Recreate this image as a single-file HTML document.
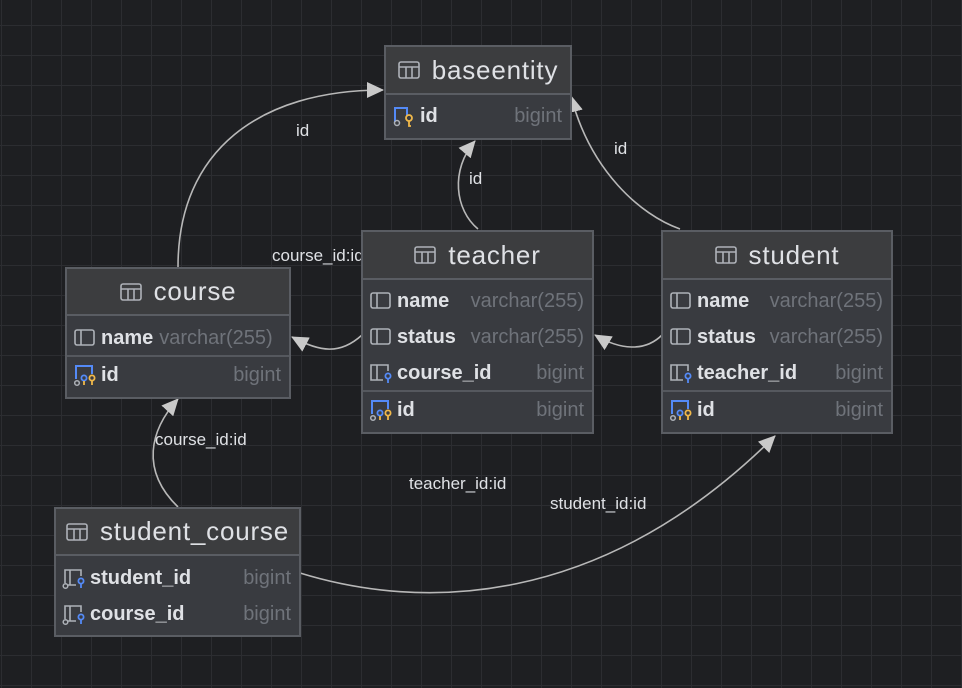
<!DOCTYPE html>
<html><head><meta charset="utf-8"><style>
html,body{margin:0;padding:0;}
body{width:962px;height:688px;position:relative;overflow:hidden;background:#1e1f22;font-family:"Liberation Sans",sans-serif;}
svg.bg{position:absolute;left:0;top:0;}
.t{position:absolute;background:#393b40;border:2px solid #5a5d63;box-sizing:border-box;}
.h{position:absolute;left:0;right:0;top:0;background:#3c3d3f;border-bottom:2px solid #5a5d63;color:#dfe1e5;font-size:26px;display:flex;align-items:center;justify-content:center;letter-spacing:0.8px;}
.h svg{margin-right:12px;}
.r{position:absolute;left:0;right:0;height:30px;display:flex;align-items:center;font-size:20px;}
.r .ic{width:24px;height:24px;margin-left:6px;margin-right:4px;flex:none;}
.r .n{color:#dfe1e5;font-weight:bold;white-space:nowrap;}
.r .ty{color:#6f737a;margin-left:auto;margin-right:8px;white-space:nowrap;}
.sep{position:absolute;left:0;right:0;height:2px;background:#55585e;}
.lbl{position:absolute;color:#dfe1e5;font-size:17px;}
</style></head><body>
<svg class="bg" width="962" height="688">
<defs>
<pattern id="g" width="30" height="30" patternUnits="userSpaceOnUse" x="1" y="25">
<path d="M0 0H30M0 0V30" stroke="#2c2d31" stroke-width="2" fill="none"/>
</pattern>
<marker id="a" markerWidth="18" markerHeight="16" refX="16" refY="8" orient="auto" markerUnits="userSpaceOnUse">
<path d="M0,0 L17,8 L0,16 Z" fill="#c9c9c9"/>
</marker>
</defs>
<rect width="962" height="688" fill="url(#g)"/>
<g stroke="#b8b8b8" stroke-width="1.6" fill="none" marker-end="url(#a)">
<path d="M178,267 C178,150 260,90 383,90"/>
<path d="M478,229 C455,210 450,170 475,141"/>
<path d="M680,229 C640,215 590,170 571,96"/>
<path d="M362,335 C340,355 320,352 292,337"/>
<path d="M662,335 C645,352 620,350 595,335"/>
<path d="M178,507 C140,470 150,430 178,399"/>
<path d="M300,573 C420,610 600,610 775,436"/>
</g>
</svg>

<div class="lbl" style="left:296px;top:121px">id</div>
<div class="lbl" style="left:469px;top:169px">id</div>
<div class="lbl" style="left:614px;top:139px">id</div>
<div class="lbl" style="left:272px;top:246px">course_id:id</div>
<div class="lbl" style="left:155px;top:430px">course_id:id</div>
<div class="lbl" style="left:409px;top:474px">teacher_id:id</div>
<div class="lbl" style="left:550px;top:494px">student_id:id</div>

<!-- baseentity -->
<div class="t" style="left:384px;top:45px;width:188px;height:95px">
 <div class="h" style="height:46px"><svg width="22" height="18"><rect x="1" y="1" width="20" height="16" rx="2" fill="none" stroke="#aeb2b8" stroke-width="1.6"/><path d="M1 6H21M8 6V17M14 6V17" stroke="#aeb2b8" stroke-width="1.6"/></svg>baseentity</div>
 <div class="r" style="top:54px"><svg class="ic" viewBox="0 0 24 24"><path d="M3 18V4h12v8" stroke="#548af7" stroke-width="2" fill="none"/><circle cx="5" cy="19" r="2.5" stroke="#aeb2b8" fill="none" stroke-width="1.5"/><circle cx="17" cy="14" r="3" stroke="#f0b84a" fill="none" stroke-width="1.8"/><path d="M17 17v5h2" stroke="#f0b84a" stroke-width="1.8" fill="none"/></svg><span class="n">id</span><span class="ty">bigint</span></div>
</div>

<!-- teacher -->
<div class="t" style="left:361px;top:230px;width:233px;height:204px">
 <div class="h" style="height:46px"><svg width="22" height="18"><rect x="1" y="1" width="20" height="16" rx="2" fill="none" stroke="#aeb2b8" stroke-width="1.6"/><path d="M1 6H21M8 6V17M14 6V17" stroke="#aeb2b8" stroke-width="1.6"/></svg>teacher</div>
 <div class="r" style="top:54px"><svg class="ic" viewBox="0 0 24 24"><rect x="2" y="4" width="19" height="15" rx="2" stroke="#aeb2b8" fill="none" stroke-width="1.6"/><path d="M8 4V19" stroke="#aeb2b8" stroke-width="1.6"/></svg><span class="n">name</span><span class="ty">varchar(255)</span></div>
 <div class="r" style="top:90px"><svg class="ic" viewBox="0 0 24 24"><rect x="2" y="4" width="19" height="15" rx="2" stroke="#aeb2b8" fill="none" stroke-width="1.6"/><path d="M8 4V19" stroke="#aeb2b8" stroke-width="1.6"/></svg><span class="n">status</span><span class="ty">varchar(255)</span></div>
 <div class="r" style="top:126px"><svg class="ic" viewBox="0 0 24 24"><path d="M14 19H2V4h17v6M8 4V19" stroke="#aeb2b8" fill="none" stroke-width="1.6"/><circle cx="19" cy="15" r="2.6" stroke="#548af7" fill="none" stroke-width="1.8"/><path d="M19 18v4" stroke="#548af7" stroke-width="1.8"/></svg><span class="n">course_id</span><span class="ty">bigint</span></div>
 <div class="sep" style="top:158px"></div>
 <div class="r" style="top:163px"><svg class="ic" viewBox="0 0 24 24"><path d="M3 16V3h16v8" stroke="#548af7" stroke-width="2" fill="none"/><circle cx="4" cy="20" r="2.3" stroke="#aeb2b8" fill="none" stroke-width="1.5"/><circle cx="11" cy="15" r="2.6" stroke="#548af7" fill="none" stroke-width="1.8"/><circle cx="19" cy="15" r="2.6" stroke="#f0b84a" fill="none" stroke-width="1.8"/><path d="M19 18v4M11 18v4" stroke="#f0b84a" stroke-width="1.8"/></svg><span class="n">id</span><span class="ty">bigint</span></div>
</div>

<!-- student -->
<div class="t" style="left:661px;top:230px;width:232px;height:204px">
 <div class="h" style="height:46px"><svg width="22" height="18"><rect x="1" y="1" width="20" height="16" rx="2" fill="none" stroke="#aeb2b8" stroke-width="1.6"/><path d="M1 6H21M8 6V17M14 6V17" stroke="#aeb2b8" stroke-width="1.6"/></svg>student</div>
 <div class="r" style="top:54px"><svg class="ic" viewBox="0 0 24 24"><rect x="2" y="4" width="19" height="15" rx="2" stroke="#aeb2b8" fill="none" stroke-width="1.6"/><path d="M8 4V19" stroke="#aeb2b8" stroke-width="1.6"/></svg><span class="n">name</span><span class="ty">varchar(255)</span></div>
 <div class="r" style="top:90px"><svg class="ic" viewBox="0 0 24 24"><rect x="2" y="4" width="19" height="15" rx="2" stroke="#aeb2b8" fill="none" stroke-width="1.6"/><path d="M8 4V19" stroke="#aeb2b8" stroke-width="1.6"/></svg><span class="n">status</span><span class="ty">varchar(255)</span></div>
 <div class="r" style="top:126px"><svg class="ic" viewBox="0 0 24 24"><path d="M14 19H2V4h17v6M8 4V19" stroke="#aeb2b8" fill="none" stroke-width="1.6"/><circle cx="19" cy="15" r="2.6" stroke="#548af7" fill="none" stroke-width="1.8"/><path d="M19 18v4" stroke="#548af7" stroke-width="1.8"/></svg><span class="n" style="width:103px;overflow:hidden">teacher_id</span><span class="ty">bigint</span></div>
 <div class="sep" style="top:158px"></div>
 <div class="r" style="top:163px"><svg class="ic" viewBox="0 0 24 24"><path d="M3 16V3h16v8" stroke="#548af7" stroke-width="2" fill="none"/><circle cx="4" cy="20" r="2.3" stroke="#aeb2b8" fill="none" stroke-width="1.5"/><circle cx="11" cy="15" r="2.6" stroke="#548af7" fill="none" stroke-width="1.8"/><circle cx="19" cy="15" r="2.6" stroke="#f0b84a" fill="none" stroke-width="1.8"/><path d="M19 18v4M11 18v4" stroke="#f0b84a" stroke-width="1.8"/></svg><span class="n">id</span><span class="ty">bigint</span></div>
</div>

<!-- course -->
<div class="t" style="left:65px;top:267px;width:226px;height:132px">
 <div class="h" style="height:45px"><svg width="22" height="18"><rect x="1" y="1" width="20" height="16" rx="2" fill="none" stroke="#aeb2b8" stroke-width="1.6"/><path d="M1 6H21M8 6V17M14 6V17" stroke="#aeb2b8" stroke-width="1.6"/></svg>course</div>
 <div class="r" style="top:54px"><svg class="ic" viewBox="0 0 24 24"><rect x="2" y="4" width="19" height="15" rx="2" stroke="#aeb2b8" fill="none" stroke-width="1.6"/><path d="M8 4V19" stroke="#aeb2b8" stroke-width="1.6"/></svg><span class="n">name</span><span class="ty" style="margin-left:6px">varchar(255)</span></div>
 <div class="sep" style="top:86px"></div>
 <div class="r" style="top:91px"><svg class="ic" viewBox="0 0 24 24"><path d="M3 16V3h16v8" stroke="#548af7" stroke-width="2" fill="none"/><circle cx="4" cy="20" r="2.3" stroke="#aeb2b8" fill="none" stroke-width="1.5"/><circle cx="11" cy="15" r="2.6" stroke="#548af7" fill="none" stroke-width="1.8"/><circle cx="19" cy="15" r="2.6" stroke="#f0b84a" fill="none" stroke-width="1.8"/><path d="M19 18v4M11 18v4" stroke="#f0b84a" stroke-width="1.8"/></svg><span class="n">id</span><span class="ty">bigint</span></div>
</div>

<!-- student_course -->
<div class="t" style="left:54px;top:507px;width:247px;height:130px">
 <div class="h" style="height:45px"><svg width="22" height="18"><rect x="1" y="1" width="20" height="16" rx="2" fill="none" stroke="#aeb2b8" stroke-width="1.6"/><path d="M1 6H21M8 6V17M14 6V17" stroke="#aeb2b8" stroke-width="1.6"/></svg>student_course</div>
 <div class="r" style="top:54px"><svg class="ic" viewBox="0 0 24 24"><path d="M14 19H6M3 17V4h16v6M8 4V19" stroke="#aeb2b8" fill="none" stroke-width="1.6"/><circle cx="3.5" cy="20" r="2.3" stroke="#aeb2b8" fill="none" stroke-width="1.5"/><circle cx="19" cy="15" r="2.6" stroke="#548af7" fill="none" stroke-width="1.8"/><path d="M19 18v4" stroke="#548af7" stroke-width="1.8"/></svg><span class="n">student_id</span><span class="ty">bigint</span></div>
 <div class="r" style="top:90px"><svg class="ic" viewBox="0 0 24 24"><path d="M14 19H6M3 17V4h16v6M8 4V19" stroke="#aeb2b8" fill="none" stroke-width="1.6"/><circle cx="3.5" cy="20" r="2.3" stroke="#aeb2b8" fill="none" stroke-width="1.5"/><circle cx="19" cy="15" r="2.6" stroke="#548af7" fill="none" stroke-width="1.8"/><path d="M19 18v4" stroke="#548af7" stroke-width="1.8"/></svg><span class="n">course_id</span><span class="ty">bigint</span></div>
</div>
</body></html>
